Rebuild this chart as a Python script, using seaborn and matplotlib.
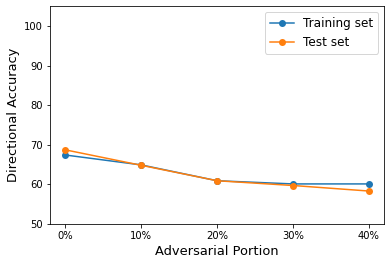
import pandas as pd
import numpy as np
import matplotlib
matplotlib.use('Agg')
import matplotlib.pyplot as plt
import seaborn as sns

portions = ['0%', '10%', '20%', '30%', '40%']
train_acc = [67.4, 64.9, 60.9, 60.1, 60.1]
test_acc = [68.7, 64.8, 60.9, 59.7, 58.3]

df = pd.DataFrame({
    'pos': list(range(len(portions))) * 2,
    'acc': train_acc + test_acc,
    'set': ['Training set'] * len(portions) + ['Test set'] * len(portions),
})

fig, ax = plt.subplots(figsize=(392 / 72, 265 / 72), dpi=72)
sns.lineplot(data=df, x='pos', y='acc', hue='set', marker='o', markersize=7,
             markeredgewidth=0, palette=['#1f77b4', '#ff7f0e'], ax=ax)

ax.set_ylim(50, 105)
ax.set_xticks(range(len(portions)))
ax.set_xticklabels(portions)
ax.tick_params(labelsize=10)
ax.set_xlabel('Adversarial Portion', fontsize=13)
ax.set_ylabel('Directional Accuracy', fontsize=13)
ax.legend(fontsize=12, loc='upper right')

fig.subplots_adjust(left=0.128, right=0.98, bottom=0.155, top=0.977)
fig.savefig('out.png', dpi=72)
